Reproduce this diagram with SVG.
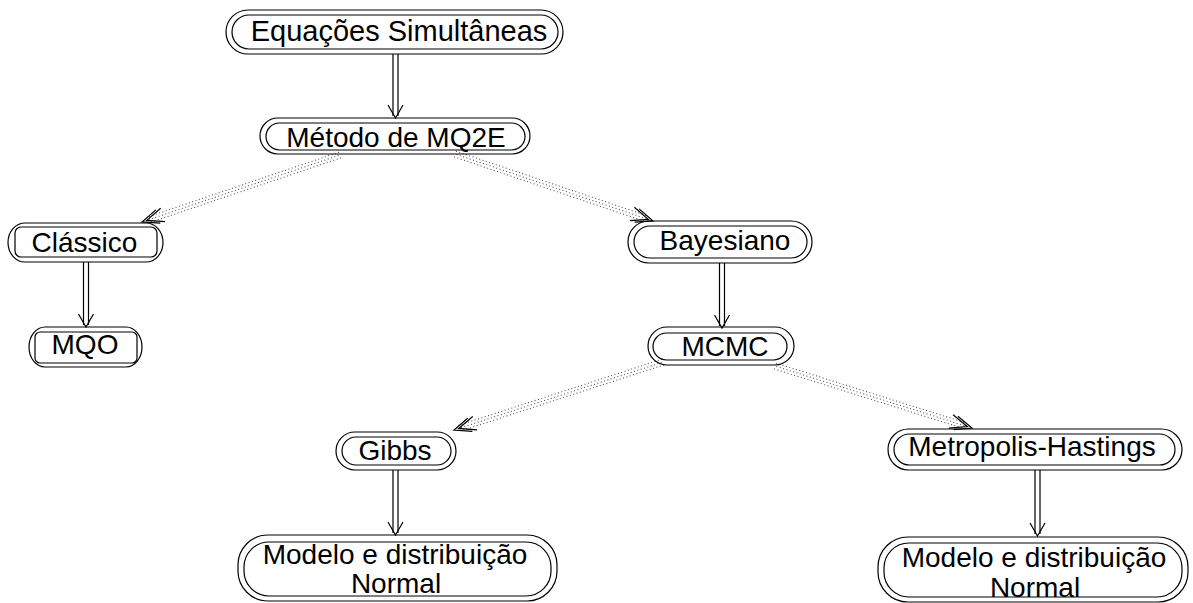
<svg xmlns="http://www.w3.org/2000/svg" xmlns:xlink="http://www.w3.org/1999/xlink" width="1193" height="603" viewBox="0 0 1193 603">
<style>
.o{fill:none;stroke:#000;stroke-width:1.2}
.i{fill:none;stroke:#000;stroke-width:1.2}
.t{font-family:"Liberation Sans",Arial,Helvetica,sans-serif;font-size:28px;fill:#000;text-anchor:middle}
.dl{fill:none;stroke:#000;stroke-width:1.2}
.ah{fill:none;stroke:#000;stroke-width:1.2}
.dot{fill:none;stroke:#444;stroke-width:1;stroke-dasharray:1 2.5}
.ch{fill:none;stroke:#000;stroke-width:1.2}
</style>
<defs>
<path id="sa" class="ah" d="M-7.5,-13 L0,0 L7.5,-13"/>
<g id="chev">
<path class="ch" d="M-17,-7 L0,0 L-17,7"/>
<path class="ch" d="M-22,-7 L-5,0 L-22,7"/>
</g>
</defs>
<rect width="1193" height="603" fill="#fff"/>

<g id="connectors">
<!-- solid double arrows -->
<g id="c1"><path class="dl" d="M393,54 V116 M398,54 V116"/><use xlink:href="#sa" href="#sa" transform="translate(395.5,118)"/></g>
<g id="c2"><path class="dl" d="M83.5,262 V325 M88.5,262 V325"/><use xlink:href="#sa" href="#sa" transform="translate(86,327)"/></g>
<g id="c3"><path class="dl" d="M719.5,263 V326 M724.5,263 V326"/><use xlink:href="#sa" href="#sa" transform="translate(722,328)"/></g>
<g id="c4"><path class="dl" d="M393,470 V533 M398,470 V533"/><use xlink:href="#sa" href="#sa" transform="translate(395.5,535)"/></g>
<g id="c5"><path class="dl" d="M1035,470 V534 M1040,470 V534"/><use xlink:href="#sa" href="#sa" transform="translate(1037.5,536)"/></g>
<!-- dotted double-chevron arrows -->
<g id="d1" transform="translate(340,155) rotate(161.31)">
<path class="dot" d="M0,-3 H203 M1.5,0 H203 M0,3 H203"/>
<use xlink:href="#chev" href="#chev" transform="translate(209,0)"/>
</g>
<g id="d2" transform="translate(455,154) rotate(18.69)">
<path class="dot" d="M0,-3 H203 M1.5,0 H203 M0,3 H203"/>
<use xlink:href="#chev" href="#chev" transform="translate(209,0)"/>
</g>
<g id="d3" transform="translate(663,362) rotate(161.98)">
<path class="dot" d="M0,-3 H214 M1.5,0 H214 M0,3 H214"/>
<use xlink:href="#chev" href="#chev" transform="translate(219.8,0)"/>
</g>
<g id="d4" transform="translate(775,366) rotate(17.47)">
<path class="dot" d="M0,-3 H200 M1.5,0 H200 M0,3 H200"/>
<use xlink:href="#chev" href="#chev" transform="translate(206.5,0)"/>
</g>
</g>

<g id="n-equacoes">
<rect class="o" x="226" y="10" width="337" height="44" rx="22" ry="22"/>
<rect class="i" x="232" y="15" width="326" height="34" rx="17" ry="17"/>
<text class="t" x="399" y="41" style="font-size:29px">Equações Simultâneas</text>
</g>
<g id="n-metodo">
<rect class="o" x="260" y="118" width="270" height="36" rx="18" ry="18"/>
<rect class="i" x="266" y="123" width="259" height="27" rx="13.5" ry="13.5"/>
<text class="t" x="396" y="147">Método de MQ2E</text>
</g>
<g id="n-classico">
<rect class="o" x="8" y="223" width="155" height="39" rx="17" ry="19.5"/>
<rect class="i" x="15" y="227" width="142" height="30" rx="6" ry="6"/>
<text class="t" x="84.5" y="252">Clássico</text>
</g>
<g id="n-mqo">
<rect class="o" x="29" y="327" width="113" height="40" rx="16" ry="20"/>
<rect class="i" x="35" y="332" width="102" height="31" rx="5" ry="5"/>
<text class="t" x="85" y="354">MQO</text>
</g>
<g id="n-bayesiano">
<rect class="o" x="628" y="221" width="184" height="42" rx="21" ry="21"/>
<rect class="i" x="634" y="226" width="173" height="32" rx="16" ry="16"/>
<text class="t" x="725" y="250">Bayesiano</text>
</g>
<g id="n-mcmc">
<rect class="o" x="648" y="327" width="146" height="38" rx="19" ry="19"/>
<rect class="i" x="653" y="333" width="134" height="27" rx="13.5" ry="13.5"/>
<text class="t" x="725" y="356">MCMC</text>
</g>
<g id="n-gibbs">
<rect class="o" x="336" y="432" width="120" height="38" rx="19" ry="19"/>
<rect class="i" x="342" y="437" width="109" height="28" rx="14" ry="14"/>
<text class="t" x="395" y="460">Gibbs</text>
</g>
<g id="n-metropolis">
<rect class="o" x="888" y="429" width="294" height="41" rx="20.5" ry="20.5"/>
<rect class="i" x="894" y="434" width="281" height="31" rx="15.5" ry="15.5"/>
<text class="t" x="1032" y="456">Metropolis-Hastings</text>
</g>
<g id="n-modelo1">
<rect class="o" x="238" y="535" width="319" height="66" rx="30" ry="30"/>
<rect class="i" x="244" y="542" width="307" height="54" rx="25" ry="25"/>
<text class="t" x="395" y="564">Modelo e distribuição</text>
<text class="t" x="396" y="593">Normal</text>
</g>
<g id="n-modelo2">
<rect class="o" x="878" y="537" width="310" height="65" rx="30" ry="30"/>
<rect class="i" x="884" y="543" width="298" height="54" rx="25" ry="25"/>
<text class="t" x="1034" y="567">Modelo e distribuição</text>
<text class="t" x="1035" y="597">Normal</text>
</g>
</svg>
